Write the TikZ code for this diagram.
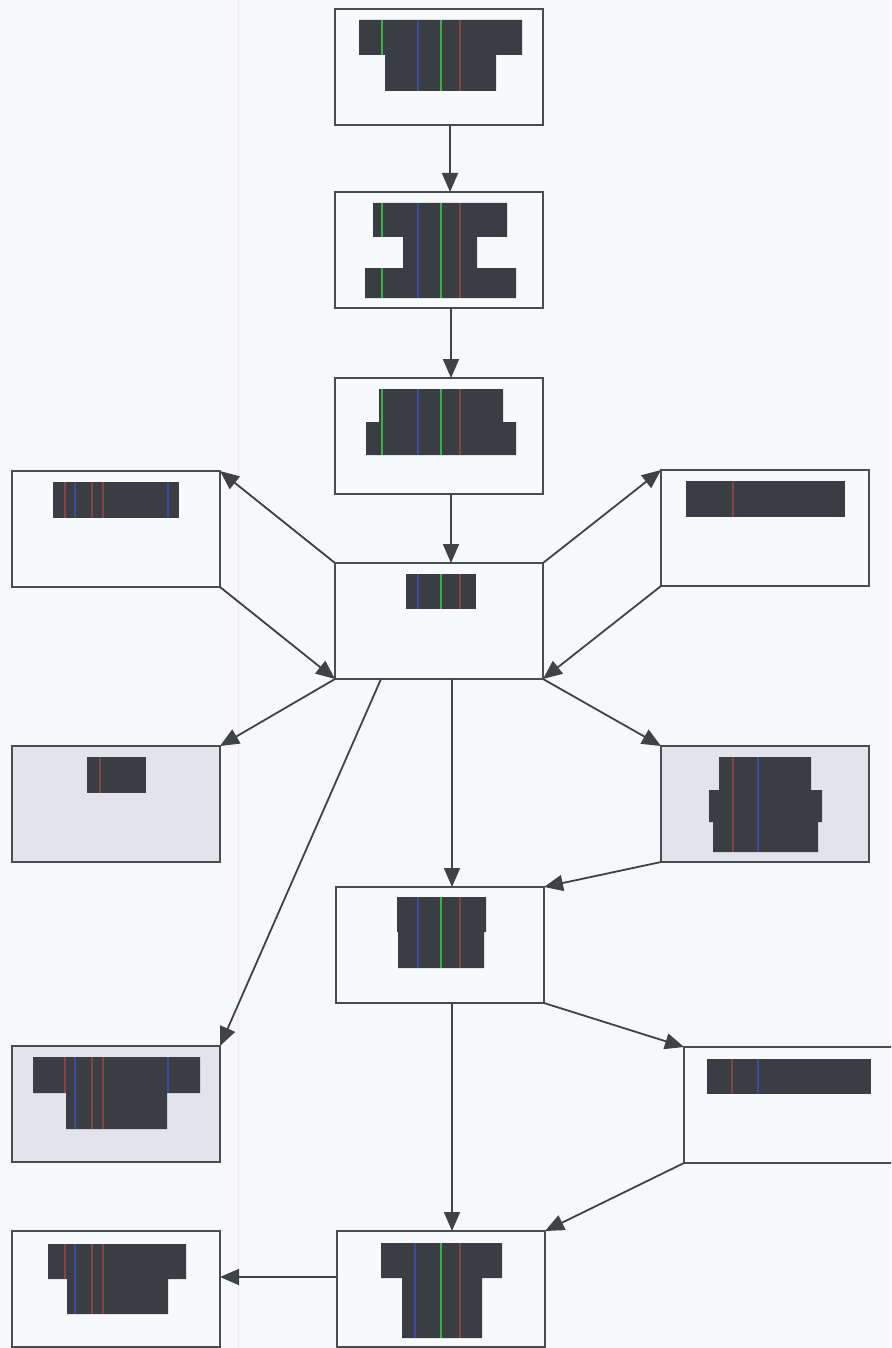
\documentclass[tikz,border=0pt]{standalone}
\usetikzlibrary{arrows.meta}
\definecolor{paper}{HTML}{F7F8FC}
\definecolor{boxline}{HTML}{4A4C50}
\definecolor{boxfill}{HTML}{F8F9FD}
\definecolor{shadefill}{HTML}{E3E3EA}
\definecolor{ink}{HTML}{3A3D42}
\definecolor{arrowink}{HTML}{404246}
\definecolor{gstripe}{HTML}{38B04A}
\definecolor{bstripe}{HTML}{3A4FB8}
\definecolor{rstripe}{HTML}{A8444E}
\tikzset{
  stage/.style={draw=boxline, line width=1.8pt, fill=boxfill, rectangle,
    minimum width=208pt, minimum height=116pt, inner sep=0pt, outer sep=0pt,
    anchor=north west},
  shaded/.style={stage, fill=shadefill},
  part/.style={fill=ink},
  gline/.style={draw=gstripe, line width=1.2pt},
  bline/.style={draw=bstripe, line width=1.1pt, draw opacity=0.8},
  rline/.style={draw=rstripe, line width=1.1pt, draw opacity=0.7},
  flow/.style={draw=arrowink, line width=1.8pt,
    -{Triangle[length=19pt,width=16pt]}},
}
\begin{document}
\begin{tikzpicture}[x=1pt,y=-1pt]
\useasboundingbox (0,0) rectangle (891,1348);
\clip (0,0) rectangle (891,1348);
\fill[paper] (0,0) rectangle (891,1348);
\draw[draw=rstripe, draw opacity=0.08, line width=1pt] (238,0) -- (238,1348);

% ---- stage boxes ----
\node[stage]  (b1) at (335,9)    {};
\node[stage]  (b2) at (335,192)  {};
\node[stage]  (b3) at (335,378)  {};
\node[stage]  (b4) at (335,563)  {};
\node[stage]  (l1) at (12,471)   {};
\node[stage]  (r1) at (661,470)  {};
\node[shaded] (l2) at (12,746)   {};
\node[shaded] (r2) at (661,746)  {};
\node[stage]  (b5) at (336,887)  {};
\node[shaded] (l3) at (12,1046)  {};
\node[stage, minimum width=230pt] (r3) at (684,1047) {};
\node[stage]  (l4) at (12,1231)  {};
\node[stage]  (b6) at (337,1231) {};

% ---- profiles ----
% b1
\fill[part] (359,20) -- (522,20) -- (522,55) -- (496,55) -- (496,91) -- (385,91) -- (385,55) -- (359,55) -- cycle;
\draw[gline] (382,20) -- (382,55);
\draw[bline] (418,20) -- (418,91);
\draw[gline] (441,20) -- (441,91);
\draw[rline] (460,20) -- (460,91);
% b2
\fill[part] (373,203) -- (507,203) -- (507,237) -- (477,237) -- (477,268) -- (516,268) -- (516,298) -- (365,298) -- (365,268) -- (403,268) -- (403,237) -- (373,237) -- cycle;
\draw[gline] (382,203) -- (382,237);
\draw[gline] (382,268) -- (382,298);
\draw[bline] (418,203) -- (418,298);
\draw[gline] (441,203) -- (441,298);
\draw[rline] (460,203) -- (460,298);
% b3
\fill[part] (379,389) -- (503,389) -- (503,422) -- (516,422) -- (516,455) -- (366,455) -- (366,422) -- (379,422) -- cycle;
\draw[gline] (382,389) -- (382,455);
\draw[bline] (418,389) -- (418,455);
\draw[gline] (441,389) -- (441,455);
\draw[rline] (460,389) -- (460,455);
% b4
\fill[part] (406,574) rectangle (476,609);
\draw[bline] (418,574) -- (418,609);
\draw[gline] (441,574) -- (441,609);
\draw[rline] (460,574) -- (460,609);
% l1
\fill[part] (53,482) rectangle (179,518);
\draw[rline] (65,482) -- (65,518);
\draw[bline] (75,482) -- (75,518);
\draw[rline] (92,482) -- (92,518);
\draw[rline] (103,482) -- (103,518);
\draw[bline] (168,482) -- (168,518);
% r1
\fill[part] (686,481) rectangle (845,517);
\draw[rline] (733,481) -- (733,517);
% l2
\fill[part] (87,757) rectangle (146,793);
\draw[rline] (100,757) -- (100,793);
% r2
\fill[part] (719,757) -- (811,757) -- (811,790) -- (822,790) -- (822,822) -- (818,822) -- (818,852) -- (713,852) -- (713,822) -- (709,822) -- (709,790) -- (719,790) -- cycle;
\draw[rline] (733,757) -- (733,852);
\draw[bline] (758,757) -- (758,852);
% b5
\fill[part] (397,897) -- (486,897) -- (486,932) -- (484,932) -- (484,968) -- (398,968) -- (398,932) -- (397,932) -- cycle;
\draw[bline] (418,897) -- (418,968);
\draw[gline] (441,897) -- (441,968);
\draw[rline] (460,897) -- (460,968);
% l3
\fill[part] (33,1057) -- (200,1057) -- (200,1093) -- (167,1093) -- (167,1129) -- (66,1129) -- (66,1093) -- (33,1093) -- cycle;
\draw[rline] (65,1057) -- (65,1093);
\draw[bline] (75,1057) -- (75,1129);
\draw[rline] (92,1057) -- (92,1129);
\draw[rline] (103,1057) -- (103,1129);
\draw[bline] (168,1057) -- (168,1093);
% r3
\fill[part] (707,1059) rectangle (871,1094);
\draw[rline] (732,1059) -- (732,1094);
\draw[bline] (758,1059) -- (758,1094);
% l4
\fill[part] (48,1244) -- (186,1244) -- (186,1279) -- (168,1279) -- (168,1314) -- (67,1314) -- (67,1279) -- (48,1279) -- cycle;
\draw[rline] (65,1244) -- (65,1279);
\draw[bline] (75,1244) -- (75,1314);
\draw[rline] (92,1244) -- (92,1314);
\draw[rline] (103,1244) -- (103,1314);
% b6
\fill[part] (381,1243) -- (502,1243) -- (502,1278) -- (482,1278) -- (482,1338) -- (402,1338) -- (402,1278) -- (381,1278) -- cycle;
\draw[bline] (415,1243) -- (415,1338);
\draw[gline] (441,1243) -- (441,1338);
\draw[rline] (460,1243) -- (460,1338);

% ---- connectors ----
\draw[flow] ([xshift=11pt]b1.south) -- ([xshift=11pt]b2.north);
\draw[flow] ([xshift=12pt]b2.south) -- ([xshift=12pt]b3.north);
\draw[flow] ([xshift=12pt]b3.south) -- ([xshift=12pt]b4.north);
\draw[flow] (b4.north west) -- (l1.north east);
\draw[flow] (l1.south east) -- (b4.south west);
\draw[flow] (b4.north east) -- (r1.north west);
\draw[flow] (r1.south west) -- (b4.south east);
\draw[flow] (b4.south west) -- (l2.north east);
\draw[flow] (b4.south east) -- (r2.north west);
\draw[flow] ([xshift=46pt]b4.south west) -- (l3.north east);
\draw[flow] ([xshift=13pt]b4.south) -- ([xshift=12pt]b5.north);
\draw[flow] (r2.south west) -- (b5.north east);
\draw[flow] (b5.south east) -- (r3.north west);
\draw[flow] ([xshift=12pt]b5.south) -- ([xshift=11pt]b6.north);
\draw[flow] (r3.south west) -- (b6.north east);
\draw[flow] ([yshift=-46pt]b6.north west) -- ([yshift=-46pt]l4.north east);
\end{tikzpicture}
\end{document}
